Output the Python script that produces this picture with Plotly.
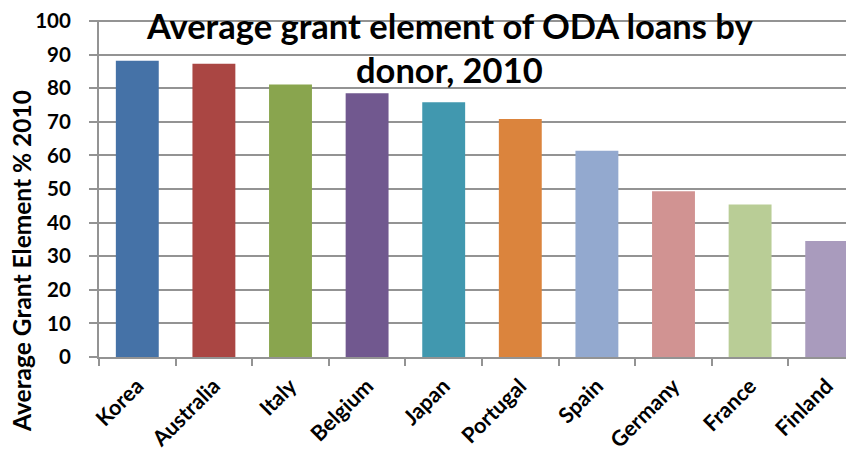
import plotly.graph_objects as go

donors = ["Korea", "Australia", "Italy", "Belgium", "Japan",
          "Portugal", "Spain", "Germany", "France", "Finland"]
grant_element = [88.2, 87.3, 81.1, 78.5, 75.8, 70.8, 61.4, 49.3, 45.4, 34.5]
bar_colors = ["#4572A7", "#AA4643", "#89A54E", "#71588F", "#4198AF",
              "#DB843D", "#93A9CF", "#D19392", "#B9CD96", "#A99BBD"]

title_lines = ["Average grant element of ODA loans by", "donor, 2010"]
y_title = "Average Grant Element % 2010"

FONT = "Lato, 'Open Sans', sans-serif"
GRID = "#939393"

fig = go.Figure(
    go.Bar(
        x=donors,
        y=grant_element,
        marker=dict(color=bar_colors, line=dict(width=0)),
        showlegend=False,
    )
)

fig.update_layout(
    width=857,
    height=445,
    margin=dict(l=91, r=0, t=12, b=94),
    paper_bgcolor="white",
    plot_bgcolor="white",
    bargap=0.44,
    font=dict(family=FONT, color="black"),
    annotations=[
        # two title lines placed separately to get the line spacing right
        dict(text=f"<b>{title_lines[0]}</b>", xref="paper", yref="paper",
             x=0.458, y=0.985, xanchor="center", yanchor="middle",
             showarrow=False, font=dict(size=34.5, family=FONT, color="black")),
        dict(text=f"<b>{title_lines[1]}</b>", xref="paper", yref="paper",
             x=0.458, y=0.853, xanchor="center", yanchor="middle",
             showarrow=False, font=dict(size=34.5, family=FONT, color="black")),
        dict(text=f"<b>{y_title}</b>", textangle=-90,
             xref="paper", yref="paper", x=-0.1005, y=0.285,
             xanchor="center", yanchor="middle", showarrow=False,
             font=dict(size=24.5, family=FONT, color="black")),
    ],
)

fig.update_yaxes(
    range=[0, 100.3],
    tickvals=list(range(0, 101, 10)),
    showgrid=True,
    gridcolor=GRID,
    gridwidth=2,
    showline=True,
    linecolor=GRID,
    linewidth=2,
    ticks="outside",
    ticklen=8,
    tickwidth=1.5,
    tickcolor=GRID,
    ticklabelstandoff=14,
    ticklabeloverflow="allow",
    tickfont=dict(size=20.5, family=FONT, color="black", weight="bold"),
    zeroline=False,
)

fig.update_xaxes(
    showline=True,
    linecolor=GRID,
    linewidth=2,
    ticks="outside",
    tickson="boundaries",
    ticklen=7,
    tickwidth=1.5,
    tickcolor=GRID,
    tickangle=-45,
    ticklabelstandoff=6,
    tickfont=dict(size=21.5, family=FONT, color="black", weight="bold"),
)

fig.write_html("out.html")
